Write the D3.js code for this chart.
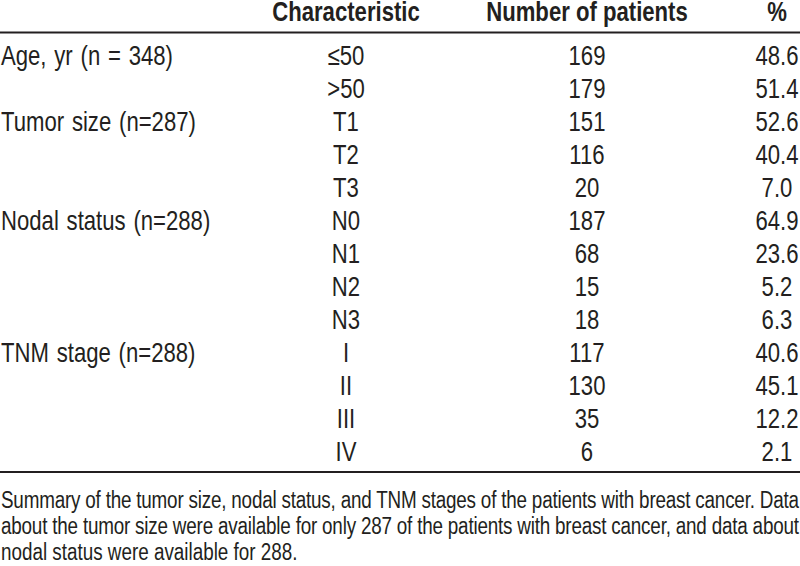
<!DOCTYPE html>
<html>
<head>
<meta charset="utf-8">
<script src="https://cdn.jsdelivr.net/npm/d3@7"></script>
<style>
  html, body { margin: 0; padding: 0; background: #fff; }
  svg { display: block; }
  text { font-family: "Liberation Sans", Arial, sans-serif; fill: #231f20; }
</style>
</head>
<body>
<svg id="chart" width="800" height="566"></svg>
<script>
const headers = ["Characteristic", "Number of patients", "%"];
const groupLabels = ["Age, yr (n = 348)", "", "Tumor size (n=287)", "", "", "Nodal status (n=288)", "", "", "", "TNM stage (n=288)", "", "", ""];
const characteristics = ["≤50", ">50", "T1", "T2", "T3", "N0", "N1", "N2", "N3", "I", "II", "III", "IV"];
const patients = [169, 179, 151, 116, 20, 187, 68, 15, 18, 117, 130, 35, 6];
const percents = ["48.6", "51.4", "52.6", "40.4", "7.0", "64.9", "23.6", "5.2", "6.3", "40.6", "45.1", "12.2", "2.1"];
const footnote = [
  "Summary of the tumor size, nodal status, and TNM stages of the patients with breast cancer. Data",
  "about the tumor size were available for only 287 of the patients with breast cancer, and data about",
  "nodal status were available for 288."
];

const svg = d3.select("#chart");
const W = 800;
const fs = 27, fsFoot = 23;
const SX = 0.82; // condensed look
const rows = d3.range(characteristics.length);

const y = d3.scalePoint().domain(rows).range([65, 65 + 33 * 12]);
const colX = d3.scaleOrdinal().domain(["char", "num", "pct"]).range([346, 587, 777]);
const place = (x, yy) => `translate(${x},${yy}) scale(${SX},1)`;

// header
svg.selectAll("text.hdr").data(headers).join("text")
  .attr("class", "hdr")
  .attr("transform", (d, i) => place(colX(["char", "num", "pct"][i]), 21))
  .attr("text-anchor", "middle")
  .attr("font-weight", "bold")
  .attr("font-size", fs)
  .text(d => d);

// rules
svg.append("line").attr("x1", 0).attr("x2", W).attr("y1", 32.5).attr("y2", 32.5)
  .attr("stroke", "#231f20").attr("stroke-width", 2);
svg.append("line").attr("x1", 0).attr("x2", W).attr("y1", 472).attr("y2", 472)
  .attr("stroke", "#231f20").attr("stroke-width", 2);

// body
const g = svg.append("g");
g.selectAll("text.grp").data(rows.filter(i => groupLabels[i])).join("text")
  .attr("class", "grp")
  .attr("transform", i => place(1, y(i)))
  .attr("font-size", fs)
  .attr("word-spacing", 2)
  .attr("xml:space", "preserve")
  .text(i => groupLabels[i]);

g.selectAll("text.chr").data(rows).join("text")
  .attr("class", "chr")
  .attr("transform", i => place(colX("char"), y(i)))
  .attr("text-anchor", "middle").attr("font-size", fs)
  .text(i => characteristics[i]);

g.selectAll("text.num").data(rows).join("text")
  .attr("class", "num")
  .attr("transform", i => place(colX("num"), y(i)))
  .attr("text-anchor", "middle").attr("font-size", fs)
  .text(i => patients[i]);

g.selectAll("text.pct").data(rows).join("text")
  .attr("class", "pct")
  .attr("transform", i => place(colX("pct"), y(i)))
  .attr("text-anchor", "middle").attr("font-size", fs)
  .text(i => percents[i]);

// footnote
const fy = d3.scaleLinear().domain([0, 2]).range([508, 560]);
svg.selectAll("text.foot").data(footnote).join("text")
  .attr("class", "foot")
  .attr("transform", (d, i) => place(1, fy(i)))
  .attr("font-size", fsFoot)
  .each(function(d, i) {
    if (i < footnote.length - 1) {
      d3.select(this).attr("textLength", 798 / SX).attr("lengthAdjust", "spacing");
    }
  })
  .text(d => d);
</script>
</body>
</html>
